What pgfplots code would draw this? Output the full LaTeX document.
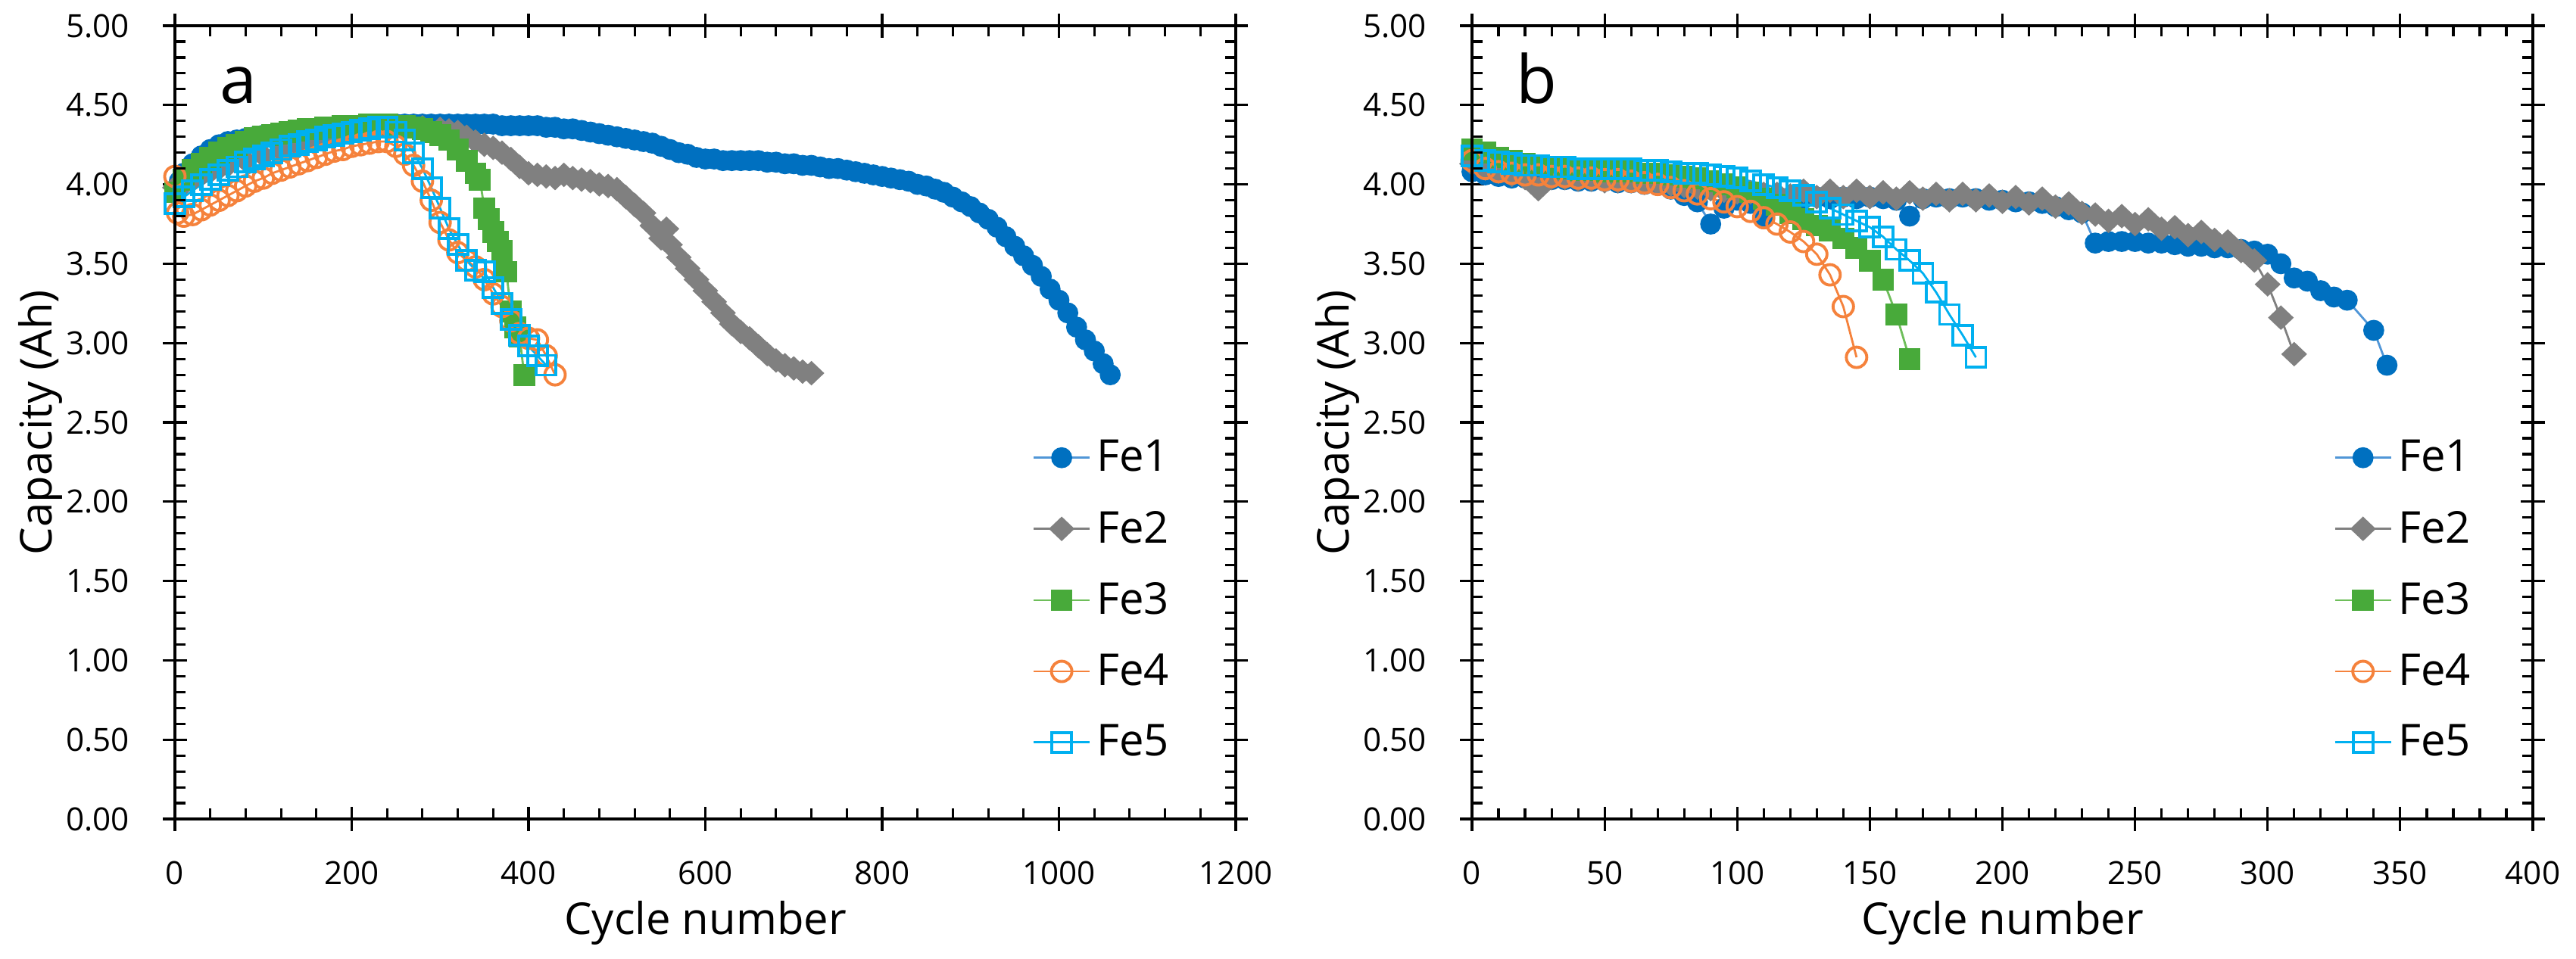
\documentclass[border=0pt]{standalone}
\usepackage{pgfplots}
\pgfplotsset{compat=1.18}
\usepackage{fontspec}
\setmainfont{Open Sans}
\definecolor{c1}{RGB}{0,112,192}
\definecolor{c1l}{RGB}{80,150,215}
\definecolor{c2}{RGB}{128,128,128}
\definecolor{c3}{RGB}{72,170,58}
\definecolor{c3l}{RGB}{110,190,90}
\definecolor{c4}{RGB}{245,130,60}
\definecolor{c5}{RGB}{0,176,240}
\pgfplotsset{
  base/.style={
    scale only axis, width=140.1mm, height=104.8mm,
    ymin=0, ymax=5,
    ytick={0,0.5,1,1.5,2,2.5,3,3.5,4,4.5,5},
    axis line style={line width=1.1pt},
    clip=false,
    /pgf/number format/assume math mode=true,
  },
  major/.style={
    tick align=center, major tick length=3.2mm,
    minor tick num=0,
    tick style={black, line width=0.9pt},
    tick label style={font=\fontsize{12}{14}\selectfont},
    yticklabel style={xshift=-3.2mm, /pgf/number format/.cd, fixed, fixed zerofill, precision=2},
    xticklabel style={yshift=-2.7mm, /pgf/number format/.cd, fixed, 1000 sep={}},
    every axis y label/.style={at={(axis description cs:-0.127,0.5)}, rotate=90, anchor=center, font=\fontsize{16.5}{20}\selectfont},
    every axis x label/.style={at={(axis description cs:0.5,-0.131)}, anchor=center, font=\fontsize{16.5}{20}\selectfont},
    legend image code/.code={\draw[mark repeat=2,mark phase=2,##1] plot coordinates {(0mm,0mm)(3.7mm,0mm)(7.4mm,0mm)};},
    legend cell align=left,
    legend style={draw=none, fill=none, anchor=west, font=\fontsize{16.5}{20}\selectfont, row sep=3.1mm, inner sep=0pt, nodes={inner sep=0.8mm}},
  },
  minorl/.style={
    tick align=inside, major tick length=0pt, minor tick length=1.4mm,
    minor tick num=4,
    tick style={black, line width=0.9pt},
    xticklabels={}, yticklabels={},
  },
  s1/.style={color=c1l, line width=0.8pt, mark=*, mark size=1.3mm, mark options={fill=c1, draw=c1, line width=0.5pt}},
  s2/.style={color=c2, line width=0.8pt, mark=diamond*, mark size=1.5mm, mark options={xscale=1.4, fill=c2, draw=c2, line width=0.5pt}},
  s3/.style={color=c3l, line width=0.8pt, mark=square*, mark size=1.35mm, mark options={fill=c3, draw=c3, line width=0.5pt}},
  s4/.style={color=c4, line width=0.8pt, mark=o, mark size=1.35mm, mark options={draw=c4, line width=1.1pt}},
  s5/.style={color=c5, line width=0.8pt, mark=square, mark size=1.3mm, mark options={draw=c5, line width=1.1pt}},
}
\begin{document}
\begin{tikzpicture}
\useasboundingbox (-23.1mm,-18.4mm) rectangle (317.1mm,108.2mm);
% ---------------- panel a ----------------
\begin{axis}[base, major, xmin=0, xmax=1200, xtick={0,200,400,600,800,1000,1200},
  xlabel={Cycle number}, ylabel={Capacity (Ah)},
  legend style={at={(0.808,0.276)}}]
\addplot[s1] coordinates {(0,3.95)(5,4.02)(10,4.07)(20,4.13)(30,4.18)(40,4.22)(50,4.25)(60,4.27)(70,4.28)(80,4.29)(90,4.30)(100,4.31)(110,4.31)(120,4.32)(130,4.33)(140,4.33)(150,4.34)(160,4.35)(170,4.35)(180,4.36)(190,4.36)(200,4.37)(210,4.37)(220,4.37)(230,4.38)(240,4.38)(250,4.38)(260,4.38)(270,4.38)(280,4.38)(290,4.38)(300,4.38)(310,4.38)(320,4.38)(330,4.38)(340,4.38)(350,4.38)(360,4.38)(370,4.37)(380,4.37)(390,4.37)(400,4.37)(410,4.37)(420,4.36)(430,4.36)(440,4.35)(450,4.35)(460,4.34)(470,4.33)(480,4.32)(490,4.31)(500,4.30)(510,4.29)(520,4.28)(530,4.27)(540,4.26)(550,4.24)(560,4.22)(570,4.20)(580,4.19)(590,4.17)(600,4.16)(610,4.16)(620,4.15)(630,4.15)(640,4.15)(650,4.15)(660,4.15)(670,4.14)(680,4.14)(690,4.13)(700,4.13)(710,4.12)(720,4.12)(730,4.11)(740,4.10)(750,4.10)(760,4.09)(770,4.08)(780,4.07)(790,4.06)(800,4.05)(810,4.04)(820,4.03)(830,4.02)(840,4.00)(850,3.99)(860,3.97)(870,3.95)(880,3.92)(890,3.89)(900,3.86)(910,3.82)(920,3.78)(930,3.73)(940,3.67)(950,3.61)(960,3.55)(970,3.49)(980,3.42)(990,3.34)(1000,3.27)(1010,3.19)(1020,3.10)(1030,3.02)(1040,2.95)(1050,2.87)(1058,2.80)};
\addlegendentry{Fe1}
\addplot[s2] coordinates {(0,3.98)(10,4.00)(20,4.03)(30,4.06)(40,4.08)(50,4.10)(60,4.12)(80,4.15)(100,4.18)(120,4.21)(140,4.24)(160,4.27)(180,4.30)(200,4.32)(220,4.34)(240,4.35)(260,4.36)(280,4.36)(300,4.35)(310,4.34)(320,4.33)(330,4.30)(340,4.27)(350,4.25)(360,4.23)(370,4.20)(380,4.16)(390,4.11)(400,4.07)(410,4.06)(420,4.05)(430,4.04)(440,4.06)(450,4.04)(460,4.03)(470,4.02)(480,4.00)(490,3.99)(500,3.97)(510,3.92)(520,3.87)(530,3.82)(540,3.74)(550,3.66)(556,3.72)(560,3.62)(570,3.54)(580,3.47)(590,3.40)(600,3.33)(610,3.26)(620,3.19)(630,3.12)(640,3.07)(650,3.03)(660,2.98)(670,2.93)(680,2.89)(690,2.86)(700,2.84)(710,2.82)(720,2.81)};
\addlegendentry{Fe2}
\addplot[s3] coordinates {(0,3.95)(10,4.03)(20,4.09)(30,4.13)(40,4.17)(50,4.20)(60,4.23)(70,4.25)(80,4.27)(90,4.29)(100,4.30)(110,4.31)(120,4.32)(130,4.33)(140,4.34)(150,4.35)(160,4.35)(170,4.36)(180,4.36)(190,4.37)(200,4.37)(210,4.37)(220,4.38)(230,4.38)(240,4.38)(250,4.37)(260,4.37)(270,4.36)(280,4.35)(290,4.33)(300,4.31)(310,4.28)(320,4.22)(330,4.15)(340,4.07)(345,4.03)(350,3.85)(355,3.78)(360,3.70)(365,3.64)(370,3.58)(375,3.45)(380,3.20)(385,3.10)(390,3.04)(395,2.80)};
\addlegendentry{Fe3}
\addplot[s4] coordinates {(0,4.05)(3,3.82)(10,3.80)(20,3.81)(30,3.84)(40,3.87)(50,3.90)(60,3.93)(70,3.96)(80,3.99)(90,4.02)(100,4.04)(110,4.07)(120,4.09)(130,4.11)(140,4.13)(150,4.15)(160,4.17)(170,4.19)(180,4.21)(190,4.22)(200,4.24)(210,4.25)(220,4.26)(230,4.27)(240,4.27)(250,4.24)(260,4.19)(270,4.12)(280,4.02)(290,3.90)(300,3.76)(310,3.65)(320,3.57)(330,3.52)(340,3.48)(350,3.40)(360,3.31)(370,3.23)(380,3.14)(390,3.06)(400,3.03)(410,3.02)(420,2.92)(430,2.80)};
\addlegendentry{Fe4}
\addplot[s5] coordinates {(0,3.88)(10,3.92)(20,3.96)(30,4.00)(40,4.03)(50,4.06)(60,4.09)(70,4.11)(80,4.14)(90,4.16)(100,4.18)(110,4.20)(120,4.22)(130,4.24)(140,4.25)(150,4.27)(160,4.28)(170,4.30)(180,4.31)(190,4.32)(200,4.33)(210,4.34)(220,4.35)(230,4.36)(240,4.36)(250,4.33)(260,4.28)(270,4.20)(280,4.10)(290,3.98)(300,3.85)(310,3.72)(320,3.62)(330,3.52)(340,3.46)(350,3.45)(360,3.35)(370,3.25)(380,3.15)(390,3.05)(400,2.98)(410,2.92)(420,2.86)};
\addlegendentry{Fe5}
\node[anchor=base, font=\fontsize{25}{30}\selectfont] at (axis description cs:0.060,0.902) {a};
\end{axis}
\begin{axis}[base, minorl, xmin=0, xmax=1200, xtick={0,200,400,600,800,1000,1200}]
\end{axis}
% ---------------- panel b ----------------
\begin{axis}[base, major, at={(171.3mm,0mm)}, xmin=0, xmax=400, xtick={0,50,100,150,200,250,300,350,400},
  xlabel={Cycle number}, ylabel={Capacity (Ah)},
  legend style={at={(0.812,0.276)}}]
\addplot[s1] coordinates {(0,4.08)(5,4.06)(10,4.05)(15,4.04)(20,4.04)(25,4.03)(30,4.03)(35,4.03)(40,4.02)(45,4.02)(50,4.02)(55,4.01)(60,4.01)(65,4.00)(70,4.00)(75,3.97)(80,3.93)(85,3.89)(90,3.75)(95,3.85)(100,3.90)(105,3.88)(110,3.80)(115,3.87)(120,3.90)(125,3.91)(130,3.92)(135,3.91)(140,3.92)(145,3.91)(150,3.92)(155,3.91)(160,3.90)(165,3.80)(170,3.91)(175,3.92)(180,3.91)(185,3.92)(190,3.91)(195,3.90)(200,3.90)(205,3.89)(210,3.89)(215,3.88)(220,3.86)(225,3.84)(230,3.82)(235,3.63)(240,3.64)(245,3.64)(250,3.64)(255,3.63)(260,3.63)(265,3.62)(270,3.61)(275,3.61)(280,3.60)(285,3.60)(290,3.59)(295,3.58)(300,3.56)(305,3.50)(310,3.41)(315,3.39)(320,3.33)(325,3.29)(330,3.27)(340,3.08)(345,2.86)};
\addlegendentry{Fe1}
\addplot[s2] coordinates {(0,4.13)(5,4.10)(10,4.08)(15,4.06)(20,4.04)(25,3.97)(30,4.04)(35,4.04)(40,4.03)(45,4.03)(50,4.02)(55,4.02)(60,4.02)(65,4.01)(70,4.01)(75,4.00)(80,3.99)(85,3.98)(90,3.97)(95,3.96)(100,3.95)(105,3.95)(110,3.94)(115,3.94)(120,3.93)(125,3.96)(130,3.92)(135,3.96)(140,3.92)(145,3.96)(150,3.92)(155,3.95)(160,3.91)(165,3.95)(170,3.91)(175,3.94)(180,3.90)(185,3.94)(190,3.90)(195,3.93)(200,3.89)(205,3.92)(210,3.88)(215,3.91)(220,3.86)(225,3.88)(230,3.82)(235,3.81)(240,3.77)(245,3.80)(250,3.75)(255,3.78)(260,3.72)(265,3.73)(270,3.68)(275,3.70)(280,3.65)(285,3.64)(290,3.58)(295,3.52)(300,3.37)(305,3.16)(310,2.93)};
\addlegendentry{Fe2}
\addplot[s3] coordinates {(0,4.22)(5,4.20)(10,4.17)(15,4.15)(20,4.13)(25,4.12)(30,4.11)(35,4.10)(40,4.09)(45,4.09)(50,4.08)(55,4.08)(60,4.08)(65,4.07)(70,4.07)(75,4.06)(80,4.05)(85,4.04)(90,4.02)(95,4.00)(100,3.98)(105,3.95)(110,3.91)(115,3.87)(120,3.82)(125,3.78)(130,3.74)(135,3.71)(140,3.66)(145,3.60)(150,3.52)(155,3.40)(160,3.18)(165,2.90)};
\addlegendentry{Fe3}
\addplot[s4] coordinates {(0,4.15)(5,4.10)(10,4.08)(15,4.07)(20,4.06)(25,4.06)(30,4.05)(35,4.05)(40,4.04)(45,4.04)(50,4.03)(55,4.03)(60,4.02)(65,4.01)(70,4.00)(75,3.98)(80,3.96)(85,3.94)(90,3.91)(95,3.89)(100,3.86)(105,3.83)(110,3.79)(115,3.75)(120,3.70)(125,3.64)(130,3.56)(135,3.43)(140,3.23)(145,2.91)};
\addlegendentry{Fe4}
\addplot[s5] coordinates {(0,4.18)(5,4.15)(10,4.14)(15,4.13)(20,4.12)(25,4.12)(30,4.11)(35,4.11)(40,4.10)(45,4.10)(50,4.10)(55,4.10)(60,4.10)(65,4.09)(70,4.09)(75,4.08)(80,4.07)(85,4.07)(90,4.06)(95,4.05)(100,4.04)(105,4.02)(110,4.00)(115,3.98)(120,3.96)(125,3.93)(130,3.89)(135,3.85)(140,3.81)(145,3.77)(150,3.73)(155,3.67)(160,3.59)(165,3.52)(170,3.44)(175,3.32)(180,3.18)(185,3.05)(190,2.91)};
\addlegendentry{Fe5}
\node[anchor=base, font=\fontsize{25}{30}\selectfont] at (axis description cs:0.061,0.902) {b};
\end{axis}
\begin{axis}[base, minorl, at={(171.3mm,0mm)}, xmin=0, xmax=400, xtick={0,50,100,150,200,250,300,350,400}]
\end{axis}
\end{tikzpicture}
\end{document}
